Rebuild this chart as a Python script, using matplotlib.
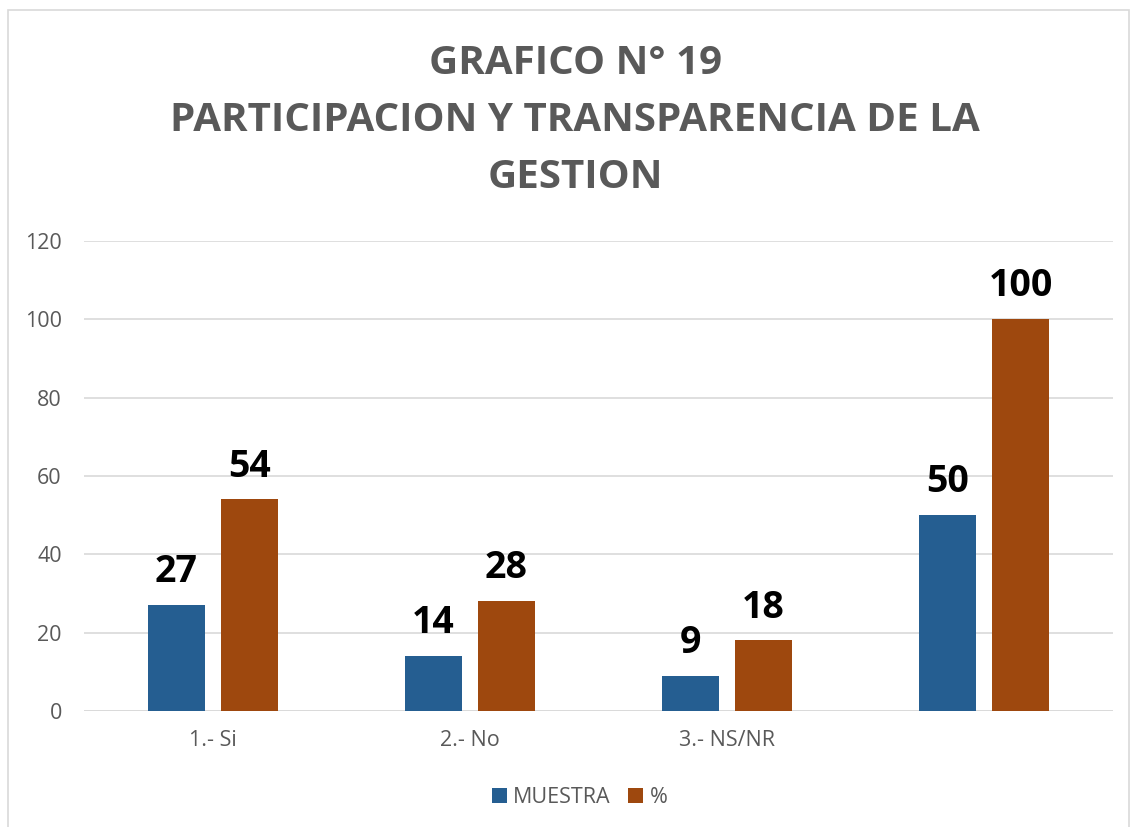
import matplotlib
matplotlib.use("Agg")
import matplotlib.pyplot as plt
import numpy as np
from matplotlib.patches import Rectangle

categories = ["1.- Si", "2.- No", "3.- NS/NR", ""]
muestra = [27, 14, 9, 50]
porcentaje = [54, 28, 18, 100]
series_names = ["MUESTRA", "%"]
yticks = [0, 20, 40, 60, 80, 100, 120]

blue = "#255E91"
orange = "#9E480E"
gray = "#595959"

plt.rcParams['font.family'] = ['Open Sans', 'DejaVu Sans']

fig = plt.figure(figsize=(11.32, 8.27), dpi=100)
fig.patches.append(Rectangle((0.007, -0.01), 0.99, 0.998, transform=fig.transFigure,
                             fill=False, edgecolor="#D9D9D9", linewidth=1.2))
ax = fig.add_axes([0.0742, 0.1403, 0.9090, 0.5683])

x = np.arange(len(categories))
w = 0.222
off = 0.142
b1 = ax.bar(x - off, muestra, w, color=blue, label=series_names[0], zorder=3)
b2 = ax.bar(x + off, porcentaje, w, color=orange, label=series_names[1], zorder=3)

for bars, vals in ((b1, muestra), (b2, porcentaje)):
    for r, v in zip(bars, vals):
        ax.annotate(f"{v}", (r.get_x() + r.get_width() / 2, v), xytext=(0, 10),
                    textcoords="offset points", ha="center", va="bottom",
                    fontsize=27, fontweight="bold", color="black")

ax.set_xlim(-0.5, 3.5)
ax.set_ylim(0, 120)
ax.set_yticks(yticks)
ax.set_xticks(x)
ax.set_xticklabels(categories)
ax.yaxis.grid(True, color="#D9D9D9", linewidth=1.2, zorder=0)
for s in ax.spines.values():
    s.set_visible(False)
ax.axhline(0, color="#D9D9D9", linewidth=1.2, zorder=2)
ax.tick_params(axis="both", length=0, labelsize=15.5, labelcolor=gray)
ax.tick_params(axis="y", pad=16)
ax.tick_params(axis="x", pad=14)

fig.text(0.508, 0.854, "GRAFICO N° 19\nPARTICIPACION Y TRANSPARENCIA DE LA\nGESTION",
         ha="center", va="center", fontsize=29, fontweight="bold", color=gray,
         linespacing=1.6)

fig.legend(loc="center", bbox_to_anchor=(0.512, 0.036), ncol=2, frameon=False,
           fontsize=15.5, labelcolor=gray, handlelength=0.7, handleheight=0.7,
           handletextpad=0.3, columnspacing=0.8)

fig.savefig("out.png", dpi=100)
